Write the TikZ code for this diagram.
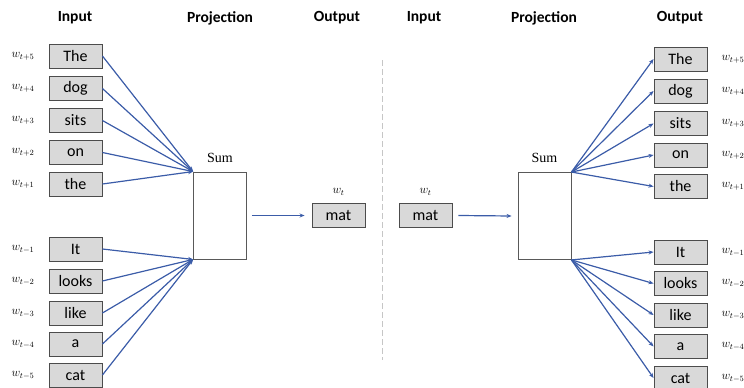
\documentclass[tikz,border=0pt]{standalone}
\usepackage{fontspec}
\setmainfont{Carlito}
\newfontfamily\sumfont{Liberation Serif}
\usetikzlibrary{arrows.meta}
\definecolor{arrowblue}{RGB}{59,92,168}
\definecolor{boxgray}{RGB}{217,217,217}

\begin{document}
\begin{tikzpicture}[x=1pt,y=-1pt,
  word/.style={draw=black!70,fill=boxgray,line width=0.9pt,minimum width=53pt,minimum height=24pt,inner sep=0pt,font=\fontsize{16}{18}\selectfont},
  sumbox/.style={draw=black!65,line width=0.9pt,minimum width=53pt,minimum height=87pt,inner sep=0pt},
  head/.style={font=\bfseries\fontsize{15.5}{18}\selectfont},
  wlab/.style={font=\fontsize{12}{14}\selectfont},
  conn/.style={draw=arrowblue,line width=1.2pt,-{Stealth[length=5pt,width=4pt]}}]
\useasboundingbox (0,0) rectangle (744,388);

% headers
\node[head] (h1) at (75,18) {Input};
\node[head] (h2) at (220,18) {Projection};
\node[head] (h3) at (337,18) {Output};
\node[head] (h4) at (424,18) {Input};
\node[head] (h5) at (544,18) {Projection};
\node[head] (h6) at (680,18) {Output};

% left: inputs
\node[word] (lp5) at (75.5,56) {The};
\node[word] (lp4) at (75.5,88.5) {dog};
\node[word] (lp3) at (75.5,120.5) {sits};
\node[word] (lp2) at (75.5,152.5) {on};
\node[word] (lp1) at (75.5,184) {the};
\node[word] (lm1) at (75.5,249) {It};
\node[word] (lm2) at (75.5,281) {looks};
\node[word] (lm3) at (75.5,313) {like};
\node[word] (lm4) at (75.5,344) {a};
\node[word] (lm5) at (75.5,375) {cat};

\node[wlab] (llp5) at (23,56) {$w_{t+5}$};
\node[wlab] (llp4) at (23,88.5) {$w_{t+4}$};
\node[wlab] (llp3) at (23,120.5) {$w_{t+3}$};
\node[wlab] (llp2) at (23,152.5) {$w_{t+2}$};
\node[wlab] (llp1) at (23,184) {$w_{t+1}$};
\node[wlab] (llm1) at (23,249) {$w_{t-1}$};
\node[wlab] (llm2) at (23,281) {$w_{t-2}$};
\node[wlab] (llm3) at (23,313) {$w_{t-3}$};
\node[wlab] (llm4) at (23,344) {$w_{t-4}$};
\node[wlab] (llm5) at (23,375) {$w_{t-5}$};

% left: projection and output
\node[sumbox] (lsum) at (220,215.5) {};
\node[font=\sumfont\fontsize{14}{16}\selectfont] (lsumlab) at (220,158) {Sum};
\node[word] (lmat) at (338.5,215.5) {mat};
\node[wlab] (lmatlab) at (338.5,192) {$w_t$};

\draw[conn] (lp5.east) -- (lsum.north west);
\draw[conn] (lp4.east) -- (lsum.north west);
\draw[conn] (lp3.east) -- (lsum.north west);
\draw[conn] (lp2.east) -- (lsum.north west);
\draw[conn] (lp1.east) -- (lsum.north west);
\draw[conn] (lm1.east) -- (lsum.south west);
\draw[conn] (lm2.east) -- (lsum.south west);
\draw[conn] (lm3.east) -- (lsum.south west);
\draw[conn] (lm4.east) -- (lsum.south west);
\draw[conn] (lm5.east) -- (lsum.south west);
\draw[conn] ([xshift=5pt]lsum.east) -- ([xshift=-7pt]lmat.west);

% divider
\draw[gray!45,line width=1pt,dash pattern=on 6pt off 3pt] (382,60) -- (382,360);

% right: input and projection
\node[word] (rmat) at (425.5,215.5) {mat};
\node[wlab] (rmatlab) at (425.5,192) {$w_t$};
\node[sumbox] (rsum) at (544.5,216) {};
\node[font=\sumfont\fontsize{14}{16}\selectfont] (rsumlab) at (544.5,158) {Sum};

% right: outputs
\node[word] (rp5) at (680.5,59) {The};
\node[word] (rp4) at (680.5,91) {dog};
\node[word] (rp3) at (680.5,123.5) {sits};
\node[word] (rp2) at (680.5,155) {on};
\node[word] (rp1) at (680.5,186.5) {the};
\node[word] (rm1) at (680.5,252) {It};
\node[word] (rm2) at (680.5,283.5) {looks};
\node[word] (rm3) at (680.5,315) {like};
\node[word] (rm4) at (680.5,346.5) {a};
\node[word] (rm5) at (680.5,378) {cat};

\node[wlab] (rlp5) at (733,59) {$w_{t+5}$};
\node[wlab] (rlp4) at (733,91) {$w_{t+4}$};
\node[wlab] (rlp3) at (733,123.5) {$w_{t+3}$};
\node[wlab] (rlp2) at (733,155) {$w_{t+2}$};
\node[wlab] (rlp1) at (733,186.5) {$w_{t+1}$};
\node[wlab] (rlm1) at (733,252) {$w_{t-1}$};
\node[wlab] (rlm2) at (733,283.5) {$w_{t-2}$};
\node[wlab] (rlm3) at (733,315) {$w_{t-3}$};
\node[wlab] (rlm4) at (733,346.5) {$w_{t-4}$};
\node[wlab] (rlm5) at (733,378) {$w_{t-5}$};

\draw[conn] ([xshift=6pt]rmat.east) -- ([xshift=-6pt]rsum.west);
\draw[conn] (rsum.north east) -- (rp5.west);
\draw[conn] (rsum.north east) -- (rp4.west);
\draw[conn] (rsum.north east) -- (rp3.west);
\draw[conn] (rsum.north east) -- (rp2.west);
\draw[conn] (rsum.north east) -- (rp1.west);
\draw[conn] (rsum.south east) -- (rm1.west);
\draw[conn] (rsum.south east) -- (rm2.west);
\draw[conn] (rsum.south east) -- (rm3.west);
\draw[conn] (rsum.south east) -- (rm4.west);
\draw[conn] (rsum.south east) -- (rm5.west);
\end{tikzpicture}
\end{document}
